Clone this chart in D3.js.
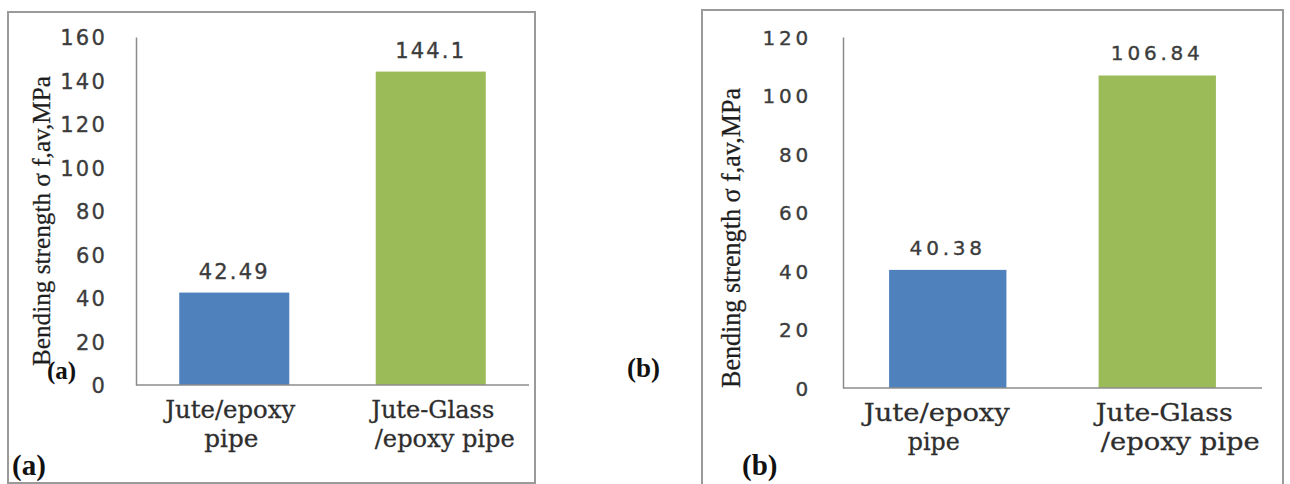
<!DOCTYPE html>
<html>
<head>
<meta charset="utf-8">
<script src="https://cdn.jsdelivr.net/npm/d3@7"></script>
<style>
  html, body { margin: 0; padding: 0; background: #fff; }
  svg { display: block; }
</style>
</head>
<body>
<svg id="chart" width="1290" height="484"></svg>
<script>
// Bending strength of the two pipe types, panels (a) and (b)
const categories = ["Jute/epoxy pipe", "Jute-Glass /epoxy pipe"];
const categoryLines = [["Jute/epoxy", "pipe"], ["Jute-Glass", "/epoxy pipe"]];
const valuesA = [42.49, 144.1];
const valuesB = [40.38, 106.84];
const ticksA = [0, 20, 40, 60, 80, 100, 120, 140, 160];
const ticksB = [0, 20, 40, 60, 80, 100, 120];
const barColors = ["#4f81bd", "#9bbb59"];
const axisTitle = "Bending strength σ f,av,MPa";

const svg = d3.select("#chart");

function drawPanel(cfg) {
  const g = svg.append("g");

  // panel frame
  g.append("rect")
    .attr("x", cfg.frame[0]).attr("y", cfg.frame[1])
    .attr("width", cfg.frame[2]).attr("height", cfg.frame[3])
    .attr("fill", "none").attr("stroke", "#9a9a9a").attr("stroke-width", 2);

  const x = d3.scaleBand()
    .domain(categories)
    .range([cfg.left, cfg.right])
    .paddingInner(0.44)
    .paddingOuter(0.22);

  const y = d3.scaleLinear()
    .domain([0, d3.max(cfg.ticks)])
    .range([cfg.bottom, cfg.top]);

  // bars
  g.selectAll("rect.bar")
    .data(cfg.values)
    .join("rect")
    .attr("class", "bar")
    .attr("x", (d, i) => x(categories[i]))
    .attr("width", x.bandwidth())
    .attr("y", d => y(d))
    .attr("height", d => y(0) - y(d))
    .attr("fill", (d, i) => barColors[i]);

  const numStyle = sel => sel
    .attr("font-family", "DejaVu Sans, Verdana, sans-serif")
    .attr("font-size", cfg.numSize)
    .attr("letter-spacing", cfg.numSpacing)
    .attr("fill", "#3c3c3c")
    .attr("stroke", "#3c3c3c")
    .attr("stroke-width", 0.35);

  // value axis
  const yAxis = d3.axisLeft(y)
    .tickValues(cfg.ticks)
    .tickSize(0)
    .tickPadding(cfg.tickPad)
    .tickFormat(d3.format("d"));
  const ya = g.append("g")
    .attr("transform", `translate(${cfg.left},0)`)
    .call(yAxis);
  ya.select(".domain").attr("stroke", "#8c8c8c").attr("stroke-width", 1.5);
  ya.selectAll(".tick text")
    .call(numStyle)
    .attr("dy", "0.36em");

  // category baseline
  g.append("line")
    .attr("x1", cfg.left).attr("x2", cfg.right)
    .attr("y1", y(0)).attr("y2", y(0))
    .attr("stroke", "#8c8c8c").attr("stroke-width", 1.5);

  // value labels above bars
  g.selectAll("text.val")
    .data(cfg.values)
    .join("text")
    .attr("class", "val")
    .attr("x", (d, i) => x(categories[i]) + x.bandwidth() / 2)
    .attr("y", d => y(d) - cfg.valGap)
    .attr("text-anchor", "middle")
    .call(numStyle)
    .text(d => d);

  // category labels (two lines each)
  categories.forEach((c, i) => {
    const cx = x(c) + x.bandwidth() / 2;
    categoryLines[i].forEach((line, j) => {
      g.append("text")
        .attr("x", cx + cfg.catShift[i][j])
        .attr("y", cfg.catBase[j])
        .attr("text-anchor", "middle")
        .attr("font-family", "DejaVu Serif, serif")
        .attr("font-size", cfg.catSize)
        .attr("fill", "#2e2e2e")
        .attr("stroke", "#2e2e2e")
        .attr("stroke-width", 0.3)
        .attr("textLength", cfg.catLen[i][j])
        .attr("lengthAdjust", "spacingAndGlyphs")
        .text(line);
    });
  });

  // axis title
  g.append("text")
    .attr("transform", `translate(${cfg.title[0]},${cfg.title[1]}) rotate(-90)`)
    .attr("text-anchor", "middle")
    .attr("dy", "0.35em")
    .attr("font-family", "Liberation Serif, Times New Roman, serif")
    .attr("font-size", cfg.titleSize)
    .attr("fill", "#1e1e1e")
    .attr("stroke", "#1e1e1e")
    .attr("stroke-width", 0.25)
    .attr("textLength", cfg.titleLen)
    .attr("lengthAdjust", "spacingAndGlyphs")
    .text(axisTitle);

  // panel tags
  cfg.tags.forEach(t => {
    g.append("text")
      .attr("x", t[0]).attr("y", t[1])
      .attr("font-family", "Liberation Serif, Times New Roman, serif")
      .attr("font-weight", "bold")
      .attr("font-size", t[2])
      .attr("fill", "#111")
      .text(cfg.tag);
  });
}

drawPanel({
  frame: [8, 12, 527, 471],
  left: 136, right: 529, top: 37, bottom: 385,
  ticks: ticksA, values: valuesA,
  tickPad: 29, numSize: 21, numSpacing: 2.2, valGap: 14,
  catSize: 24, catBase: [418, 447],
  catShift: [[-4, -3], [2, 14]],
  catLen: [[130, 54], [123, 140]],
  title: [41, 221], titleSize: 26, titleLen: 290,
  tag: "(a)",
  tags: [[47, 379, 25], [12, 475, 29]]
});

drawPanel({
  frame: [702, 10, 581, 490],
  left: 843, right: 1262, top: 37, bottom: 388,
  ticks: ticksB, values: valuesB,
  tickPad: 31, numSize: 20, numSpacing: 3.8, valGap: 15,
  catSize: 25, catBase: [421, 450],
  catShift: [[-11, -14], [7, 23]],
  catLen: [[146, 52], [137, 159]],
  title: [731, 238], titleSize: 27, titleLen: 300,
  tag: "(b)",
  tags: [[627, 377, 27], [742, 475, 29]]
});
</script>
</body>
</html>
